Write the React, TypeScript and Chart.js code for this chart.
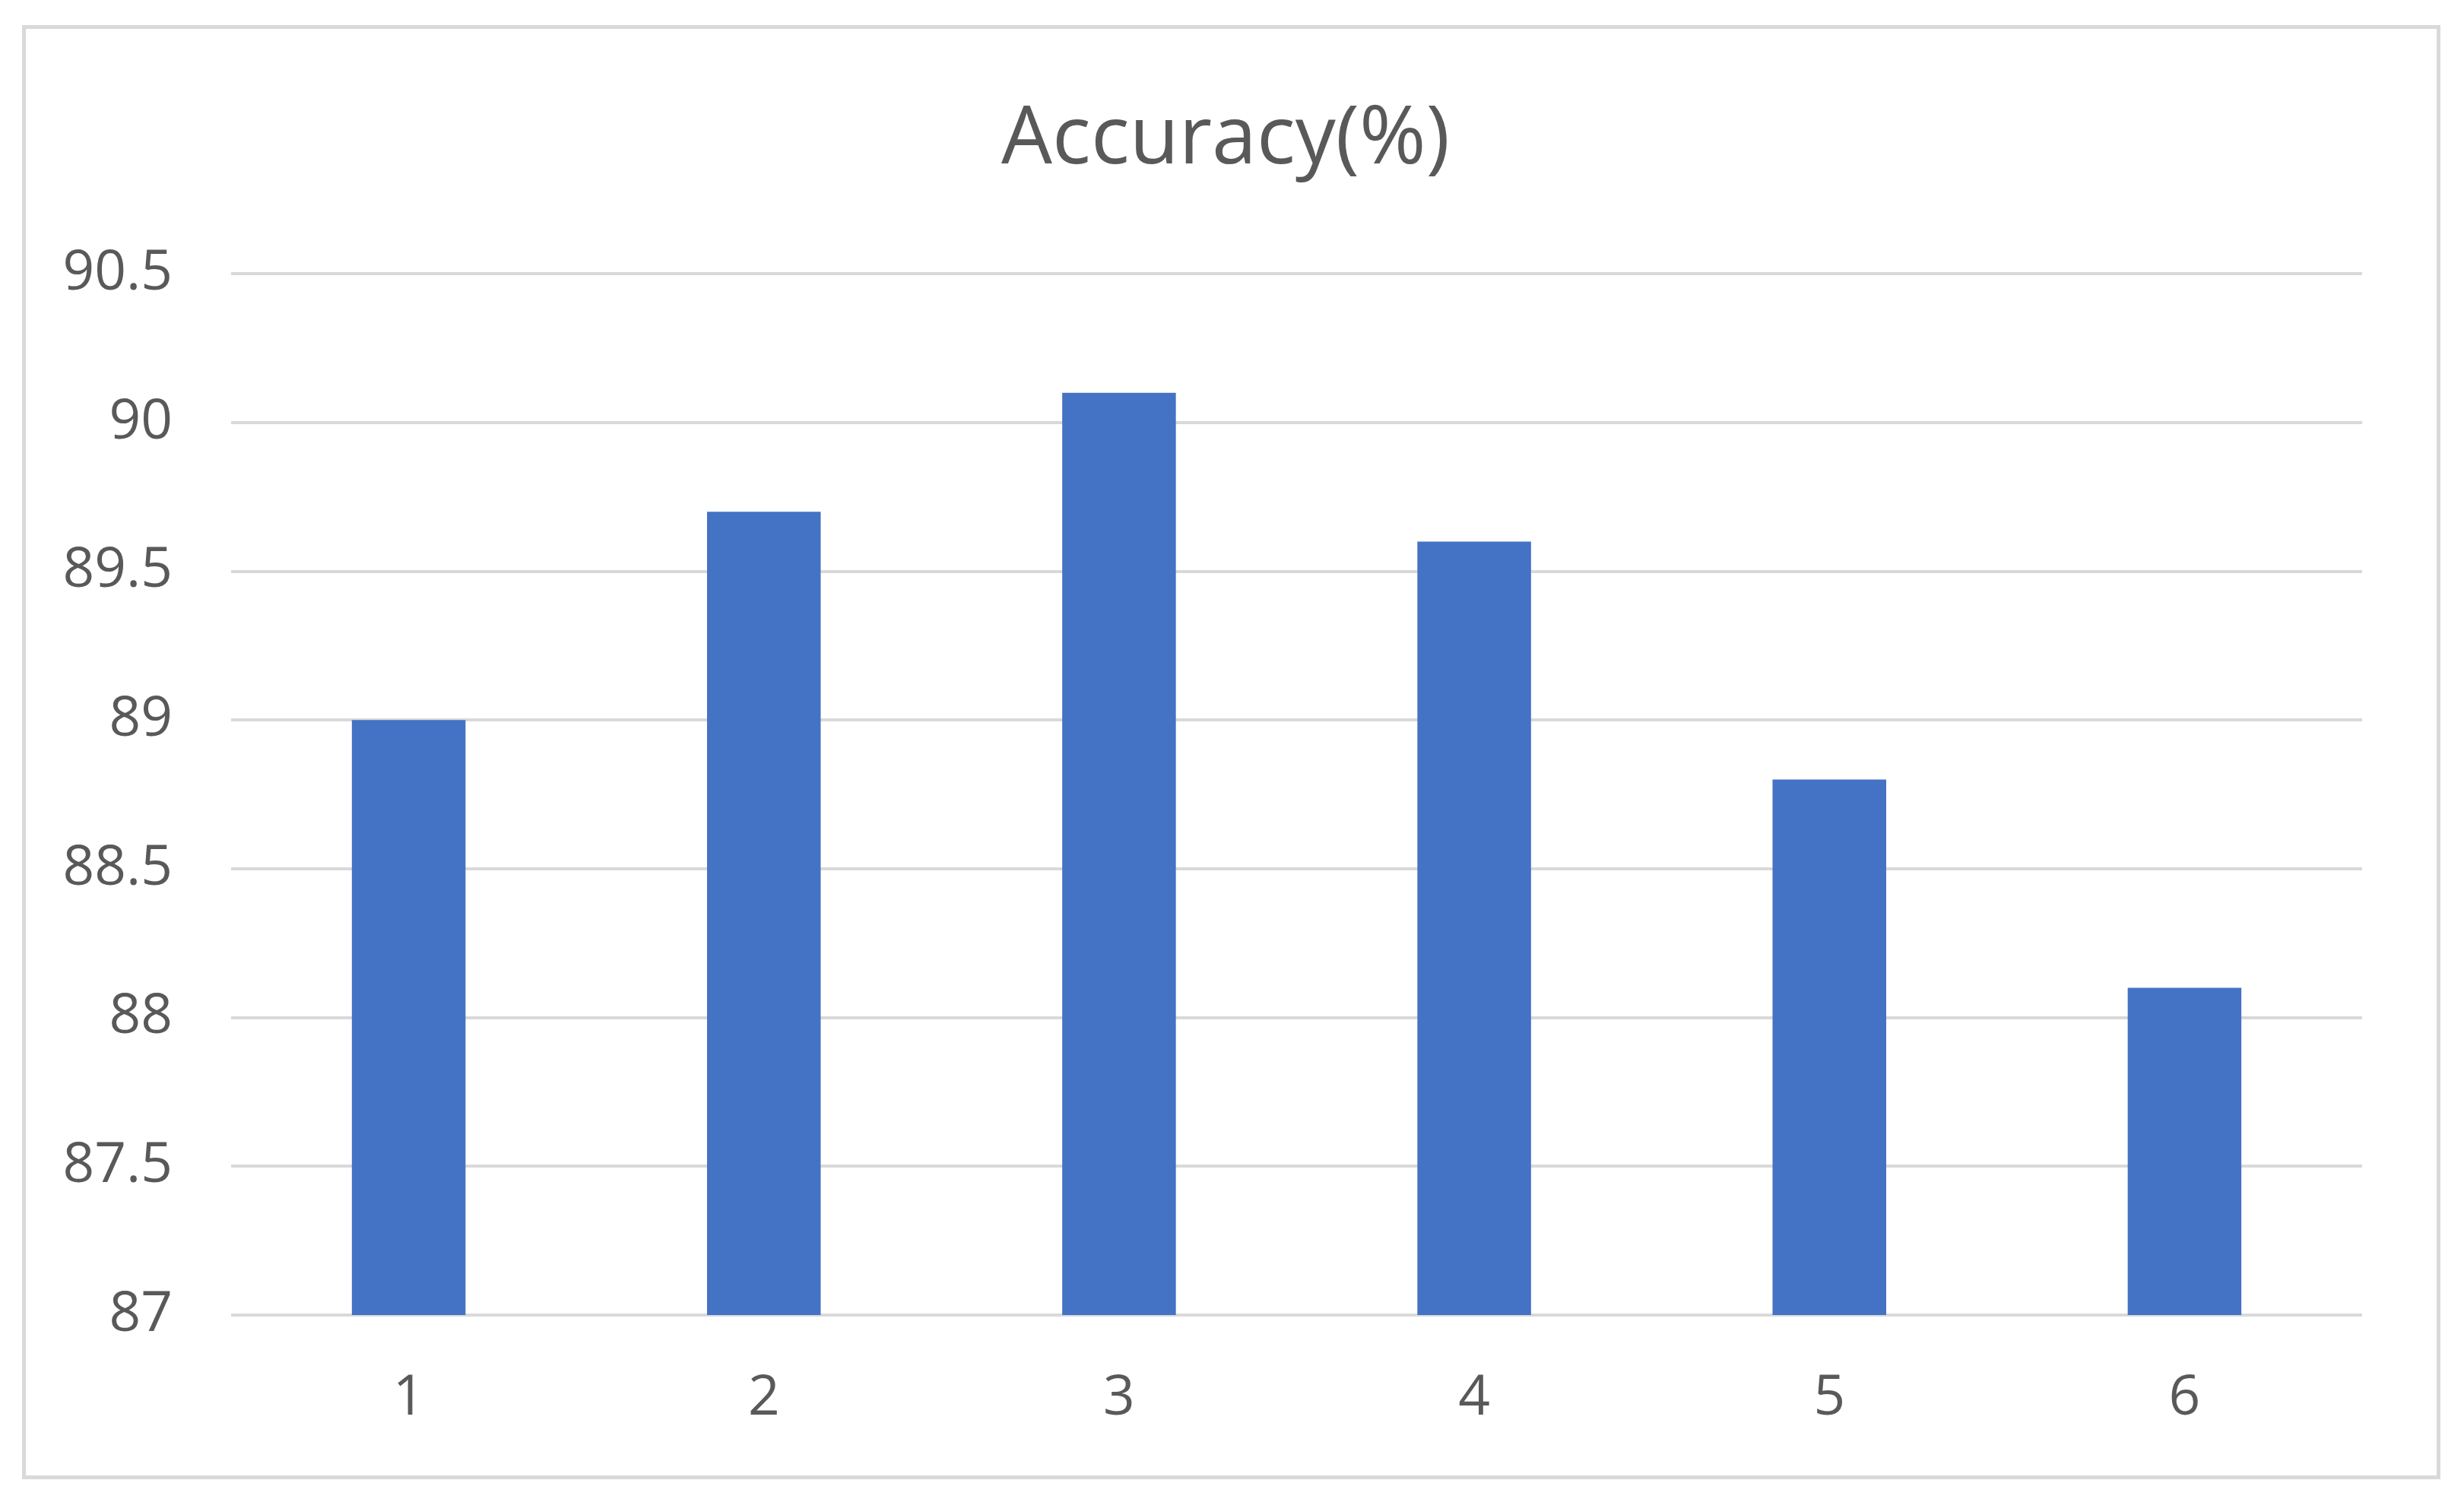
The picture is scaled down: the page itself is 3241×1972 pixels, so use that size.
import React, { useEffect, useRef } from "react";
import { Chart, registerables } from "chart.js";

Chart.register(...registerables);

const categories = ["1", "2", "3", "4", "5", "6"];
const accuracy = [89.0, 89.7, 90.1, 89.6, 88.8, 88.1];
const yTicks = [87, 87.5, 88, 88.5, 89, 89.5, 90, 90.5];
const chartTitle = "Accuracy(%)";

const TEXT = "#595959";
const GRID = "#d9d9d9";
const BAR = "#4472C4";
const FONT = "'Open Sans', 'Liberation Sans', sans-serif";

export default function App() {
  const ref = useRef<HTMLCanvasElement>(null);

  useEffect(() => {
    if (!ref.current) return;
    const chart = new Chart(ref.current, {
      type: "bar",
      data: {
        labels: categories,
        datasets: [
          {
            data: accuracy,
            backgroundColor: BAR,
            borderWidth: 0,
            barPercentage: 0.32,
            categoryPercentage: 1,
          },
        ],
      },
      options: {
        responsive: false,
        animation: false,
        devicePixelRatio: 1,
        layout: { padding: { left: 0, top: 0, right: 17, bottom: 0 } },
        plugins: {
          legend: { display: false },
          tooltip: { enabled: false },
          title: {
            display: true,
            text: chartTitle,
            color: TEXT,
            font: { family: FONT, size: 106, weight: "normal", lineHeight: 1.2 },
            padding: { top: 121, bottom: 112 },
          },
        },
        scales: {
          x: {
            grid: { display: false },
            border: { display: false },
            ticks: {
              color: TEXT,
              font: { family: FONT, size: 73, lineHeight: 1.2 },
              padding: 58,
              maxRotation: 0,
            },
            afterFit: (s: any) => {
              s.height = 242;
            },
          },
          y: {
            min: 87,
            max: 90.5,
            afterBuildTicks: (s: any) => {
              s.ticks = yTicks.map((v) => ({ value: v }));
            },
            grid: { color: GRID, lineWidth: 4, drawTicks: false },
            border: { display: false },
            ticks: {
              color: TEXT,
              font: { family: FONT, size: 73, lineHeight: 1.2 },
              padding: 77,
              callback: (v: any) => String(v),
            },
            afterFit: (s: any) => {
              s.width = 304;
            },
          },
          yRight: {
            position: "right",
            min: 87,
            max: 90.5,
            grid: { display: false, drawTicks: false },
            border: { display: false },
            ticks: { display: false },
            afterFit: (s: any) => {
              s.width = 117;
            },
          },
        },
      },
    });
    return () => chart.destroy();
  }, []);

  return (
    <div
      style={{
        position: "fixed",
        left: 0,
        top: 0,
        width: 3241,
        height: 1972,
        background: "#ffffff",
      }}
    >
      <canvas ref={ref} width={3241} height={1972} style={{ display: "block" }} />
      <div
        style={{
          position: "absolute",
          left: 29,
          top: 33,
          width: 3181,
          height: 1913,
          boxSizing: "border-box",
          border: "5px solid #d9d9d9",
          pointerEvents: "none",
        }}
      />
    </div>
  );
}
